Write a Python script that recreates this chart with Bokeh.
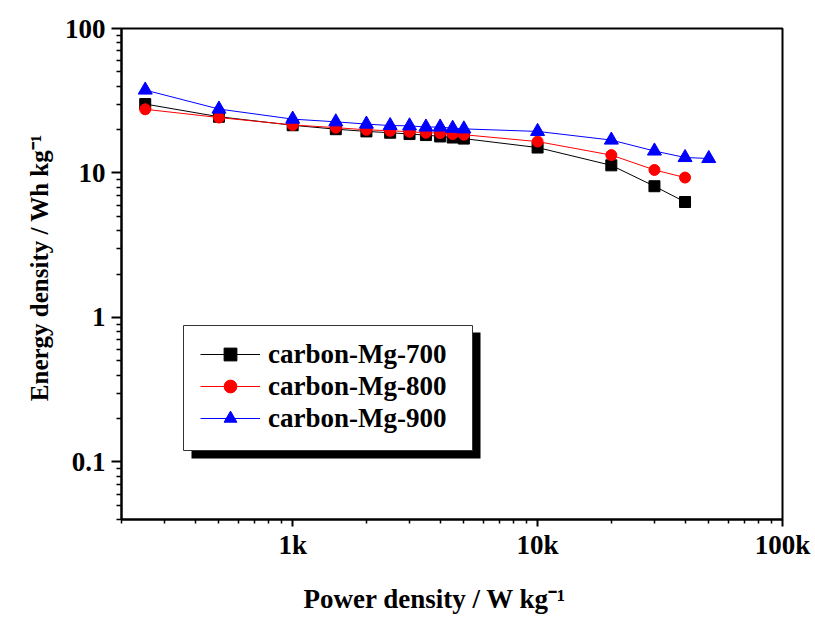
from bokeh.plotting import figure
from bokeh.models import FixedTicker, Legend, LegendItem, BoxAnnotation
from bokeh.embed import file_html
from bokeh.resources import INLINE

# ---- data ----
power = [250, 500, 1000, 1500, 2000, 2500, 3000, 3500, 4000, 4500, 5000,
         10000, 20000, 30000, 40000]
energy_700 = [30.0, 24.5, 21.4, 20.1, 19.4, 19.0, 18.6, 18.3, 17.9, 17.6, 17.3,
              15.0, 11.3, 8.1, 6.3]
energy_800 = [27.6, 24.2, 21.5, 20.6, 19.9, 19.6, 19.3, 19.0, 18.9, 18.6, 18.4,
              16.5, 13.3, 10.5, 9.3]
power_900 = [250, 500, 1000, 1500, 2000, 2500, 3000, 3500, 4000, 4500, 5000,
             10000, 20000, 30000, 40000, 50000]
energy_900 = [37.5, 27.7, 23.6, 22.6, 21.8, 21.3, 21.2, 20.8, 20.8, 20.4, 20.2,
              19.4, 16.9, 14.2, 12.8, 12.6]

series_names = ["carbon-Mg-700", "carbon-Mg-800", "carbon-Mg-900"]

x_major = [1000, 10000, 100000]
x_major_labels = ["1k", "10k", "100k"]
y_major = [0.1, 1, 10, 100]
y_major_labels = ["0.1", "1", "10", "100"]

x_label = "Power density / W kg\u207b\u00b9"
y_label = "Energy density / Wh kg\u207b\u00b9"

FONT = "Liberation Serif"
NB = "\u00a0"

p = figure(width=815, height=617, x_axis_type="log", y_axis_type="log",
           x_range=(200, 100000), y_range=(0.04, 100),
           output_backend="svg", toolbar_location=None,
           min_border_left=121, min_border_right=33,
           min_border_top=28, min_border_bottom=98)

p.grid.visible = False
p.outline_line_color = "black"
p.outline_line_width = 2
p.background_fill_color = "white"
p.border_fill_color = "white"

x_minor = [m * d for d in (100, 1000, 10000) for m in range(2, 10)]
y_minor = [m * d for d in (0.01, 0.1, 1, 10) for m in range(2, 10)]
y_minor = [v for v in y_minor if v >= 0.04 - 1e-9]

p.xaxis.ticker = FixedTicker(ticks=x_major, minor_ticks=x_minor)
p.yaxis.ticker = FixedTicker(ticks=y_major, minor_ticks=y_minor)
p.xaxis.major_label_overrides = {v: s for v, s in zip(x_major, x_major_labels)}
p.yaxis.major_label_overrides = {v: s for v, s in zip(y_major, y_major_labels)}

for ax in (p.xaxis[0], p.yaxis[0]):
    ax.axis_line_width = 2
    ax.axis_line_color = "black"
    ax.major_tick_in = 0
    ax.minor_tick_in = 0
    ax.major_tick_line_width = 2
    ax.minor_tick_line_width = 1.5
    ax.major_label_text_font = FONT
    ax.major_label_text_font_style = "bold"
    ax.major_label_text_font_size = "27px"
    ax.major_label_text_color = "black"
    ax.axis_label_text_font = FONT
    ax.axis_label_text_font_style = "bold"
    ax.axis_label_text_color = "black"

xa = p.xaxis[0]
xa.major_tick_out = 7
xa.minor_tick_out = 4
xa.major_label_standoff = 3
xa.axis_label = x_label + NB * 5
xa.axis_label_text_font_size = "27px"
xa.axis_label_standoff = 21

ya = p.yaxis[0]
ya.major_tick_out = 10
ya.minor_tick_out = 5
ya.major_label_standoff = 6
ya.axis_label = NB * 2 + y_label
ya.axis_label_text_font_size = "25px"
ya.axis_label_standoff = 9

# data series
l1 = p.line(power, energy_700, line_color="black", line_width=1)
s1 = p.scatter(power, energy_700, marker="square", size=11, fill_color="black",
               line_color="black")
l2 = p.line(power, energy_800, line_color="red", line_width=1)
s2 = p.scatter(power, energy_800, marker="circle", size=11, fill_color="red",
               line_color="red")
l3 = p.line(power_900, energy_900, line_color="blue", line_width=1)
s3 = p.scatter(power_900, energy_900, marker="triangle", size=14, fill_color="blue",
               line_color="blue")

# legend box with shadow
units = dict(left_units="screen", right_units="screen",
             top_units="screen", bottom_units="screen")
shadow = BoxAnnotation(left=70, right=359, top=187, bottom=61,
                       fill_color="black", fill_alpha=1, line_color=None, **units)
box = BoxAnnotation(left=62, right=351, top=194, bottom=69,
                    fill_color="white", fill_alpha=1, line_color="#333333",
                    line_width=1, line_alpha=1, **units)
p.add_layout(shadow)
p.add_layout(box)

legend = Legend(items=[LegendItem(label=series_names[0], renderers=[l1, s1]),
                       LegendItem(label=series_names[1], renderers=[l2, s2]),
                       LegendItem(label=series_names[2], renderers=[l3, s3])],
                location=(79, 85), padding=0, margin=0, spacing=0,
                glyph_width=60, glyph_height=32, label_height=32,
                label_standoff=8, border_line_color=None,
                background_fill_alpha=0,
                label_text_font=FONT, label_text_font_style="bold",
                label_text_font_size="27px", label_text_color="black")
p.add_layout(legend, "center")

open("out.html", "w").write(file_html(p, INLINE))
